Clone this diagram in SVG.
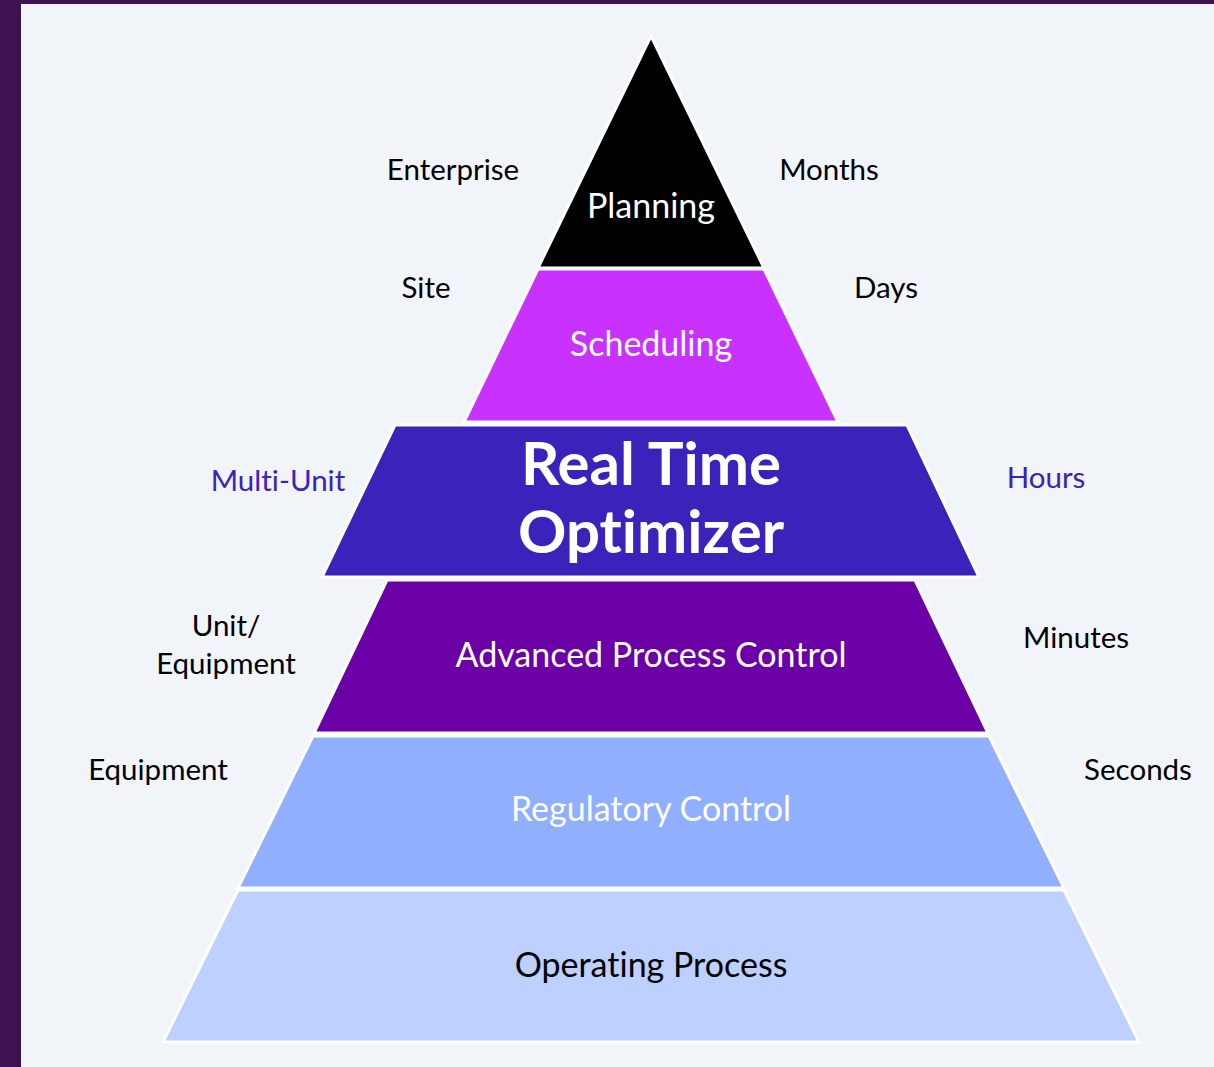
<svg xmlns="http://www.w3.org/2000/svg" width="1214" height="1067" viewBox="0 0 1214 1067">
<style>
.layer{stroke:#FFFFFF;stroke-width:3;stroke-linejoin:miter}
.t{font-family:Lato,"Open Sans","Liberation Sans",sans-serif;text-anchor:middle;font-variant-ligatures:none;font-feature-settings:"liga" 0,"clig" 0}
.lbl{font-size:29.5px;fill:#000000}
.blue{fill:#3A22BA}
.in{font-size:34px;fill:#FFFFFF}
</style>
<rect x="0" y="0" width="1214" height="1067" fill="#3E1150"/>
<rect x="21" y="4" width="1193" height="1063" fill="#F1F4F8"/>
<g id="operating">
<polygon class="layer" points="238,890 1064,890 1139,1042 163,1042" fill="#BDD0FF"/>
<text class="t in" x="651" y="977" style="fill:#000000">Operating Process</text>
</g>
<g id="regulatory">
<polygon class="layer" points="313,736 989,736 1064,888 238,888" fill="#91AFFF"/>
<text class="t in" x="651" y="821">Regulatory Control</text>
</g>
<g id="apc">
<polygon class="layer" points="387,580 915,580 988,733 314,733" fill="#6A00A6"/>
<text class="t in" x="651" y="667">Advanced Process Control</text>
</g>
<g id="rto">
<polygon class="layer" points="395,425 907,425 979,577 322,577" fill="#3A22BA"/>
<text class="t" x="651" y="485" style="font-size:60px;font-weight:bold;fill:#FFFFFF">Real Time</text>
<text class="t" x="651" y="553" style="font-size:60px;font-weight:bold;fill:#FFFFFF">Optimizer</text>
</g>
<g id="scheduling">
<polygon class="layer" points="538,269 764,269 838,422 464,422" fill="#C831FF"/>
<text class="t in" x="651" y="356">Scheduling</text>
</g>
<g id="planning">
<polygon class="layer" points="651,36 764,268 538,268" fill="#000000"/>
<text class="t in" x="651" y="218">Planning</text>
</g>
<g id="labels">
<text class="t lbl" x="453" y="180">Enterprise</text>
<text class="t lbl" x="829" y="180">Months</text>
<text class="t lbl" x="426" y="298">Site</text>
<text class="t lbl" x="886" y="298">Days</text>
<text class="t lbl blue" x="278" y="491">Multi-Unit</text>
<text class="t lbl blue" x="1046" y="488">Hours</text>
<text class="t lbl" x="226" y="636">Unit/</text>
<text class="t lbl" x="226" y="674">Equipment</text>
<text class="t lbl" x="1076" y="648">Minutes</text>
<text class="t lbl" x="158" y="780">Equipment</text>
<text class="t lbl" x="1138" y="780">Seconds</text>
</g>
</svg>
